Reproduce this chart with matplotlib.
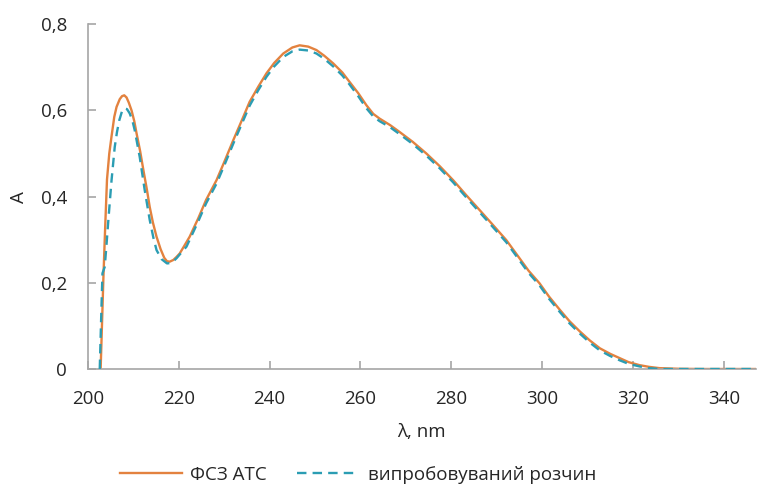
import numpy as np
import matplotlib.pyplot as plt

# ФСЗ АТС
wl_ref = [202.8, 203.4, 203.8, 204.2, 204.7, 205.2, 205.8, 206.3, 207.0, 207.5,
          208.0, 208.5, 209.0, 209.6, 210.2, 210.7, 211.5, 212.2, 213.0, 213.6,
          214.3, 215.1, 216.0, 216.8, 217.4, 218.0, 218.8, 219.5, 220.2, 221.0,
          222.4, 224.3, 226.0, 228.3, 230.0, 232.0, 234.0, 235.6, 237.5, 239.3,
          241.0, 243.0, 245.0, 246.6, 248.5, 250.3, 252.0, 254.0, 256.0, 257.6,
          259.5, 261.3, 262.8, 264.2, 266.5, 268.6, 271.5, 274.5, 277.5, 280.4,
          283.3, 286.2, 289.0, 292.1, 295.0, 297.0, 299.4, 301.5, 303.9, 306.0,
          308.3, 310.5, 312.7, 315.0, 317.1, 319.0, 321.4, 323.5, 325.8, 330.0,
          335.0, 347.0]
a_ref = [0.0, 0.21, 0.33, 0.44, 0.50, 0.54, 0.585, 0.608, 0.626, 0.633,
         0.635, 0.630, 0.618, 0.600, 0.575, 0.547, 0.505, 0.462, 0.415, 0.376,
         0.340, 0.307, 0.278, 0.258, 0.250, 0.249, 0.253, 0.260, 0.268, 0.282,
         0.307, 0.350, 0.392, 0.438, 0.480, 0.531, 0.580, 0.620, 0.655, 0.686,
         0.710, 0.732, 0.746, 0.751, 0.748, 0.740, 0.727, 0.709, 0.688, 0.666,
         0.640, 0.612, 0.592, 0.581, 0.566, 0.550, 0.527, 0.500, 0.470, 0.438,
         0.403, 0.369, 0.336, 0.299, 0.257, 0.228, 0.199, 0.168, 0.137, 0.111,
         0.087, 0.066, 0.048, 0.035, 0.025, 0.016, 0.009, 0.005, 0.002, 0.0005,
         0.0, 0.0]

# випробовуваний розчин
wl_test = [202.6, 203.0, 203.2, 203.7, 204.1, 204.5, 205.2, 205.9, 206.4, 206.9,
           207.5, 208.0, 208.6, 209.2, 209.8, 210.3, 211.4, 212.5, 213.6, 214.4,
           215.1, 216.2, 217.4, 218.4, 219.5, 221.7, 224.3, 226.0, 228.3, 230.0,
           232.0, 234.0, 235.6, 237.5, 239.3, 241.0, 243.0, 245.0, 246.6, 248.5,
           250.3, 252.0, 254.0, 256.0, 257.6, 259.5, 261.3, 262.8, 264.2, 266.5,
           268.6, 271.5, 274.5, 277.5, 280.4, 283.3, 286.2, 289.0, 292.1, 295.0,
           297.0, 299.4, 301.5, 303.9, 306.0, 308.3, 310.5, 312.7, 315.0, 317.1,
           319.0, 321.4, 323.5, 326.0, 347.0]
a_test = [0.0, 0.15, 0.222, 0.237, 0.29, 0.346, 0.438, 0.515, 0.55, 0.577,
          0.598, 0.605, 0.603, 0.593, 0.576, 0.554, 0.492, 0.415, 0.346, 0.305,
          0.276, 0.255, 0.245, 0.246, 0.257, 0.284, 0.343, 0.384, 0.430, 0.472,
          0.523, 0.572, 0.611, 0.647, 0.678, 0.702, 0.724, 0.737, 0.741, 0.739,
          0.732, 0.720, 0.702, 0.681, 0.660, 0.633, 0.605, 0.586, 0.575, 0.561,
          0.545, 0.522, 0.495, 0.465, 0.433, 0.398, 0.364, 0.331, 0.294, 0.252,
          0.223, 0.194, 0.163, 0.132, 0.106, 0.082, 0.061, 0.043, 0.030, 0.020,
          0.012, 0.006, 0.002, 0.0, 0.0]

x_ticks = [200, 220, 240, 260, 280, 300, 320, 340]
y_ticks = [0, 0.2, 0.4, 0.6, 0.8]
y_labels = ['0', '0,2', '0,4', '0,6', '0,8']

plt.rcParams['font.family'] = ['Open Sans', 'DejaVu Sans']
fs = 13.5
txt = '#262626'

fig = plt.figure(figsize=(7.58, 4.84), dpi=100)
ax = fig.add_axes([0.116, 0.2376, 0.881, 0.7124])

ax.plot(wl_ref, a_ref, color='#E3823F', lw=1.7, label='ФСЗ АТС', zorder=2)
ax.plot(wl_test, a_test, color='#2B9DB3', lw=1.7, ls=(0, (4, 2.6)),
        label='випробовуваний розчин', zorder=3)

ax.set_xlim(200, 347)
ax.set_ylim(0, 0.8)
ax.set_xticks(x_ticks)
ax.set_yticks(y_ticks)
ax.set_yticklabels(y_labels)

for s in ['top', 'right']:
    ax.spines[s].set_visible(False)
for s in ['left', 'bottom']:
    ax.spines[s].set_color('#A6A6A6')
    ax.spines[s].set_linewidth(1.2)
ax.tick_params(direction='in', length=6, width=1.2, color='#A6A6A6',
               labelsize=fs, labelcolor=txt)
ax.tick_params(axis='x', pad=15)
ax.tick_params(axis='y', pad=15)

ax.set_xlabel('λ, nm', fontsize=fs, color=txt, labelpad=11)
ax.set_ylabel('A', fontsize=fs, color=txt, labelpad=9)

fig.legend(loc='center', ncol=2, frameon=False, fontsize=fs,
           bbox_to_anchor=(358 / 758, 1 - 475 / 484), handlelength=3.3,
           handletextpad=0.45, columnspacing=1.6, labelcolor=txt,
           borderpad=0, borderaxespad=0)

fig.savefig('out.png', dpi=100)
